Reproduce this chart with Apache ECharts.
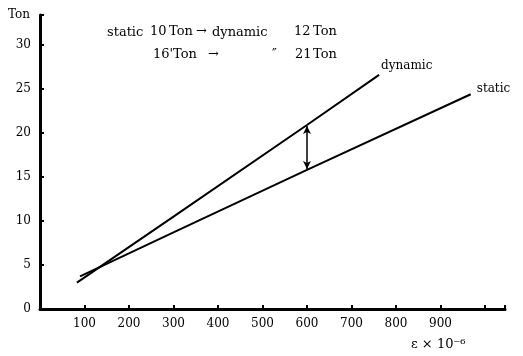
<!DOCTYPE html>
<html>
<head>
<meta charset="utf-8" />
<title></title>
<script src="https://cdn.jsdelivr.net/npm/echarts@6/dist/echarts.min.js"></script>
<style type="text/css">
  html, body { margin: 0; padding: 0; background: #fff; }
  #main { width: 523px; height: 356px; }
</style>
</head>
<body>
<div id="main"></div>
<script type="text/javascript">
// strain (x 10^-6) vs load (Ton)
var dynamicData = [[83, 3.0], [300, 10.5], [600, 20.9], [762, 26.6]];
var staticData = [[90, 3.7], [300, 8.7], [600, 15.8], [968, 24.4]];
var arrowAt = [600, 15.9, 20.8]; // x, from, to
var xTicks = [100, 200, 300, 400, 500, 600, 700, 800, 900];
var yTicks = [0, 5, 10, 15, 20, 25, 30];

var font = 'DejaVu Serif';
var myChart = echarts.init(document.getElementById('main'));

function txt(x, y, s, size, w) {
  return { type: 'text', left: x, top: y,
    style: { text: s, fontFamily: font, fontSize: size || 12, fontWeight: w || 'normal', fill: '#000' } };
}

var option = {
  backgroundColor: '#fff',
  animation: false,
  grid: { left: 40, right: 18, top: 15, bottom: 47 },
  xAxis: {
    type: 'value', min: 0, max: 1045, interval: 100,
    splitLine: { show: false },
    axisLine: { lineStyle: { color: '#000', width: 3 } },
    axisTick: { inside: true, length: 4, lineStyle: { color: '#000', width: 2 } },
    axisLabel: {
      color: '#000', fontFamily: font, fontSize: 12, margin: 9,
      formatter: function (v) { return xTicks.indexOf(v) >= 0 ? String(v) : ''; }
    }
  },
  yAxis: {
    type: 'value', min: 0, max: 33.4, interval: 5,
    splitLine: { show: false },
    axisLine: { lineStyle: { color: '#000', width: 3 } },
    axisTick: { inside: true, length: 4, lineStyle: { color: '#000', width: 2 } },
    axisLabel: {
      color: '#000', fontFamily: font, fontSize: 12, margin: 9,
      formatter: function (v) { return yTicks.indexOf(v) >= 0 ? String(v) : ''; }
    }
  },
  series: [
    {
      name: 'dynamic', type: 'line', data: dynamicData,
      symbol: 'none', lineStyle: { color: '#000', width: 2 },
      endLabel: { show: true, formatter: 'dynamic', color: '#000', fontFamily: font,
        fontSize: 12, offset: [-6, -9] },
      markLine: {
        silent: true, symbol: ['arrow', 'arrow'], symbolSize: [6, 8],
        lineStyle: { color: '#000', width: 1.5, type: 'solid' },
        label: { show: false },
        data: [[{ coord: [arrowAt[0], arrowAt[1]] }, { coord: [arrowAt[0], arrowAt[2]] }]]
      }
    },
    {
      name: 'static', type: 'line', data: staticData,
      symbol: 'none', lineStyle: { color: '#000', width: 2 },
      endLabel: { show: true, formatter: 'static', color: '#000', fontFamily: font,
        fontSize: 12, offset: [-2, -5] }
    }
  ],
  graphic: [
    txt(8, 9, 'Ton', 12),
    txt(107, 26, 'static', 13),
    txt(150, 25, '10', 13),
    txt(169, 25, 'Ton', 13),
    txt(196, 25, '\u2192', 13),
    txt(212, 26, 'dynamic', 13),
    txt(294, 25, '12', 13),
    txt(313, 25, 'Ton', 13),
    txt(153, 48, "16'Ton", 13),
    txt(208, 48, '\u2192', 13),
    txt(272, 48, '\u2033', 13),
    txt(295, 48, '21', 13),
    txt(313, 48, 'Ton', 13),
    txt(411, 338, '\u03b5 \u00d7 10\u207b\u2076', 13)
  ]
};
myChart.setOption(option);
</script>
</body>
</html>
